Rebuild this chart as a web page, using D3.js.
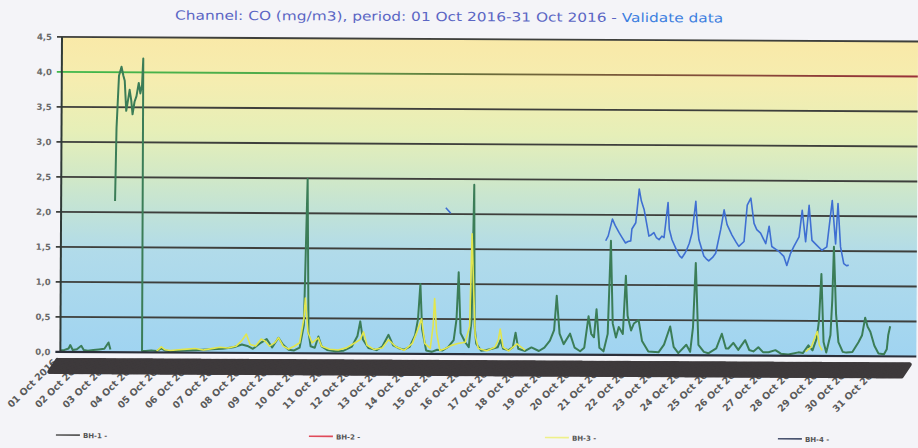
<!DOCTYPE html>
<html><head><meta charset="utf-8">
<script src="https://cdn.jsdelivr.net/npm/d3@7"></script>
<style>body{margin:0;background:#f4f4f8;} svg{display:block}</style>
</head><body><svg id="c" width="918" height="448"></svg>
<script>
const titleMain = "Channel: CO (mg/m3), period: 01 Oct 2016-31 Oct 2016 - ";
const titleTail = "Validate data";
const yTicks = [0, 0.5, 1, 1.5, 2, 2.5, 3, 3.5, 4, 4.5];
const yTickLabels = ["0,0","0,5","1,0","1,5","2,0","2,5","3,0","3,5","4,0","4,5"];
const dayLabels = ["01 Oct 2016","02 Oct 2016","03 Oct 2016","04 Oct 2016","05 Oct 2016","06 Oct 2016","07 Oct 2016","08 Oct 2016","09 Oct 2016","10 Oct 2016","11 Oct 2016","12 Oct 2016","13 Oct 2016","14 Oct 2016","15 Oct 2016","16 Oct 2016","17 Oct 2016","18 Oct 2016","19 Oct 2016","20 Oct 2016","21 Oct 2016","22 Oct 2016","23 Oct 2016","24 Oct 2016","25 Oct 2016","26 Oct 2016","27 Oct 2016","28 Oct 2016","29 Oct 2016","30 Oct 2016","31 Oct 2016"];
const seriesNames = ["BH-1 -","BH-2 -","BH-3 -","BH-4 -"];
const limitValue = 4.0;
// [day offset from 01 Oct 00:00, value]; null = gap
const bh1 = [[0,0.02],[0.15,0.03],[0.3,0.05],[0.36,0.1],[0.45,0.03],[0.6,0.04],[0.76,0.09],[0.85,0.03],[1.0,0.02],[1.2,0.03],[1.4,0.04],[1.6,0.05],[1.75,0.14],[1.82,0.04],[1.9,null],
[1.96,2.16],[2.0,3.2],[2.08,3.95],[2.17,4.08],[2.24,3.95],[2.29,3.88],[2.35,3.45],[2.42,3.62],[2.47,3.75],[2.53,3.6],[2.58,3.4],[2.65,3.58],[2.72,3.66],[2.8,3.85],[2.86,3.7],[2.92,3.82],[2.96,4.2],[2.97,0.02],
[3.1,0.02],[3.3,0.03],[3.5,0.02],[3.67,0.06],[3.8,0.03],[4.0,0.02],[4.5,0.03],[5.0,0.04],[5.5,0.05],[5.9,0.06],[6.3,0.08],[6.6,0.12],[6.8,0.1],[7.0,0.06],[7.3,0.15],[7.5,0.2],[7.7,0.08],[7.93,0.22],[8.1,0.12],[8.3,0.05],[8.5,0.04],[8.7,0.08],[8.85,0.4],[8.96,2.49],[9.02,0.3],[9.1,0.1],[9.25,0.08],[9.38,0.24],[9.5,0.1],[9.7,0.05],[10.0,0.03],[10.3,0.04],[10.6,0.1],[10.8,0.25],[10.9,0.46],[11.0,0.2],[11.2,0.08],[11.5,0.05],[11.7,0.1],[11.93,0.27],[12.1,0.12],[12.3,0.08],[12.5,0.06],[12.7,0.1],[12.9,0.27],[13.0,0.5],[13.08,1.0],[13.15,0.35],[13.3,0.05],[13.5,0.03],[13.7,0.06],[13.9,0.05],[14.1,0.1],[14.3,0.2],[14.4,0.5],[14.47,1.17],[14.55,0.3],[14.72,0.17],[14.85,0.1],[14.95,0.5],[15.02,2.42],[15.06,0.4],[15.12,0.15],[15.3,0.05],[15.5,0.06],[15.7,0.08],[15.9,0.1],[16.0,0.2],[16.1,0.08],[16.3,0.06],[16.45,0.1],[16.55,0.31],[16.65,0.08],[16.9,0.05],[17.13,0.1],[17.4,0.05],[17.6,0.1],[17.8,0.2],[17.95,0.35],[18.04,0.84],[18.15,0.3],[18.3,0.15],[18.53,0.3],[18.7,0.1],[18.9,0.05],[19.05,0.1],[19.2,0.55],[19.3,0.3],[19.4,0.25],[19.49,0.65],[19.6,0.1],[19.75,0.05],[19.9,0.3],
[20.0,1.63],[20.08,0.45],[20.2,0.25],[20.3,0.4],[20.45,0.3],[20.55,1.13],[20.62,0.56],[20.75,0.35],[20.85,0.45],[21.02,0.5],[21.15,0.2],[21.38,0.05],[21.75,0.04],[21.95,0.15],[22.17,0.41],[22.3,0.12],[22.47,0.03],[22.76,0.15],[22.9,0.05],[23.0,0.4],[23.09,1.32],[23.2,0.15],[23.4,0.05],[23.56,0.03],[23.85,0.1],[24.05,0.31],[24.2,0.1],[24.29,0.1],[24.47,0.18],[24.65,0.08],[24.9,0.22],[25.05,0.08],[25.2,0.06],[25.38,0.12],[25.55,0.05],[25.75,0.05],[26.0,0.08],[26.2,0.03],[26.47,0.02],[26.84,0.05],[27.0,0.04],[27.2,0.15],[27.35,0.08],[27.5,0.25],[27.58,0.5],[27.66,1.17],[27.75,0.2],[27.85,0.05],[28.0,0.3],[28.06,0.8],[28.11,1.56],[28.2,0.6],[28.29,0.2],[28.45,0.06],[28.58,0.05],[28.8,0.06],[29.02,0.2],[29.15,0.3],[29.26,0.55],[29.35,0.42],[29.45,0.35],[29.6,0.15],[29.75,0.04],[29.95,0.03],[30.05,0.1],[30.1,0.3],[30.17,0.43]];
const bh2 = [];
const bh3 = [[3.5,0.02],[3.67,0.08],[3.8,0.04],[4.0,0.03],[4.3,0.04],[4.6,0.05],[4.9,0.06],[5.2,0.04],[5.5,0.06],[5.8,0.08],[6.1,0.07],[6.4,0.1],[6.6,0.18],[6.76,0.27],[6.9,0.12],[7.1,0.1],[7.3,0.2],[7.45,0.17],[7.6,0.1],[7.8,0.15],[7.93,0.22],[8.1,0.1],[8.3,0.06],[8.5,0.1],[8.7,0.15],[8.85,0.5],[8.9,0.79],[9.0,0.3],[9.15,0.15],[9.38,0.22],[9.5,0.1],[9.8,0.06],[10.1,0.05],[10.4,0.08],[10.7,0.15],[10.9,0.2],[11.02,0.31],[11.15,0.12],[11.4,0.06],[11.7,0.08],[11.93,0.2],[12.2,0.1],[12.5,0.05],[12.8,0.15],[12.95,0.3],[13.13,0.5],[13.25,0.15],[13.45,0.08],[13.55,0.4],[13.6,0.79],[13.68,0.3],[13.8,0.05],[14.0,0.08],[14.2,0.12],[14.45,0.15],[14.72,0.17],[14.88,0.4],[14.95,1.72],[15.02,0.9],[15.08,0.27],[15.2,0.08],[15.5,0.05],[15.8,0.1],[15.92,0.2],[15.99,0.36],[16.1,0.1],[16.3,0.05],[16.6,0.15],[16.9,0.06],[17.0,null],
[27.1,0.06],[27.31,0.13],[27.44,0.27],[27.52,0.35],[27.6,0.15],[27.7,0.08]];
const bh4 = [[13.99,2.09],[14.08,2.05],[14.17,2.01],[14.2,null],
[19.81,1.63],[19.9,1.7],[20.05,1.94],[20.15,1.85],[20.29,1.75],[20.4,1.68],[20.53,1.6],[20.62,1.62],[20.72,1.63],[20.76,1.8],[20.9,1.89],[21.02,2.37],[21.1,2.2],[21.2,2.08],[21.38,1.7],[21.47,1.72],[21.56,1.75],[21.65,1.68],[21.75,1.65],[21.85,1.7],[21.93,1.68],[22.07,2.18],[22.12,1.8],[22.22,1.65],[22.4,1.49],[22.5,1.42],[22.58,1.39],[22.68,1.45],[22.76,1.51],[22.85,1.6],[22.95,1.75],[23.08,2.2],[23.13,1.9],[23.2,1.65],[23.38,1.42],[23.47,1.38],[23.56,1.35],[23.7,1.4],[23.81,1.46],[23.99,1.8],[24.11,2.08],[24.22,1.87],[24.4,1.72],[24.55,1.62],[24.65,1.56],[24.84,1.63],[24.95,2.15],[25.08,2.25],[25.2,1.89],[25.3,1.8],[25.44,1.75],[25.63,1.6],[25.75,1.85],[25.85,1.56],[26.0,1.52],[26.11,1.49],[26.29,1.42],[26.4,1.29],[26.53,1.46],[26.65,1.56],[26.84,1.7],[26.95,2.08],[27.08,1.63],[27.2,2.15],[27.31,1.65],[27.49,1.58],[27.67,1.51],[27.85,1.56],[28.04,2.22],[28.17,1.6],[28.25,2.18],[28.35,1.56],[28.47,1.32],[28.58,1.29],[28.65,1.3]];
const seriesColors = ["#3b7d57","#d83a4a","#e2e64e","#3f6fd2"];
const legendColors = ["#555555","#e04a5a","#eef08a","#4a5470"];

const svg = d3.select("#c");
const defs = svg.append("defs");
const L = 62, R = 918, T = 37, B = 352;
const x = d3.scaleLinear().domain([0, 31]).range([L, 914.5]);
const y = d3.scaleLinear().domain([0, 4.5]).range([B, T]);

const bg = defs.append("linearGradient").attr("id","bg").attr("x1",0).attr("y1",0).attr("x2",0).attr("y2",1);
[[0,"#f9e9a8"],[0.14,"#f5edb0"],[0.3,"#e6efb8"],[0.45,"#d0e8c8"],[0.56,"#c0e2d8"],[0.68,"#b1dbea"],[1,"#a0d4f1"]]
  .forEach(s => bg.append("stop").attr("offset", s[0]).attr("stop-color", s[1]));
const lg = defs.append("linearGradient").attr("id","lim").attr("gradientUnits","userSpaceOnUse")
  .attr("x1",L).attr("x2",R).attr("y1",0).attr("y2",0);
[[0,"#3fb84a"],[0.3,"#55a84a"],[0.5,"#6a6a3a"],[1,"#9a3038"]].forEach(s => lg.append("stop").attr("offset", s[0]).attr("stop-color", s[1]));
defs.append("clipPath").attr("id","pc").append("rect").attr("x",L).attr("y",T-6).attr("width",R-L).attr("height",B-T+6);

const root = svg.append("g").attr("transform", `rotate(0.3, ${L}, ${T})`);

root.append("text").attr("x", 449).attr("y", 19).attr("text-anchor","middle")
  .attr("font-family","DejaVu Sans, sans-serif").attr("font-size", 12.5)
  .attr("textLength", 548).attr("lengthAdjust","spacingAndGlyphs")
  .call(t => { t.append("tspan").attr("fill","#5b66c4").text(titleMain); t.append("tspan").attr("fill","#3d7fe0").text(titleTail); });

root.append("rect").attr("x",L).attr("y",T).attr("width",R-L).attr("height",B-T).attr("fill","url(#bg)");

// gridlines
root.append("g").selectAll("line").data(yTicks.filter(v => v > 0)).join("line")
  .attr("x1", 57).attr("x2", R).attr("y1", d => y(d)).attr("y2", d => y(d))
  .attr("stroke", d => d === limitValue ? "url(#lim)" : "#3e3f3c").attr("stroke-width", 1.8);
root.append("g").selectAll("text").data(yTicks).join("text")
  .attr("x", 52).attr("y", d => y(d) + 3).attr("text-anchor","end")
  .attr("font-family","DejaVu Sans, sans-serif").attr("font-size", 8.5).attr("font-weight","bold").attr("fill","#6a6a6a")
  .text((d,i) => yTickLabels[i]);

// series
const line = d3.line().defined(d => d[1] != null).x(d => x(d[0])).y(d => y(d[1]));
const plot = root.append("g").attr("clip-path","url(#pc)");
[bh1, bh2, bh3, bh4].forEach((s, i) => {
  if (!s.length) return;
  plot.append("path").datum(s).attr("d", line).attr("fill","none")
    .attr("stroke", seriesColors[i]).attr("stroke-width", i === 0 ? 2 : 1.6).attr("stroke-linejoin","round");
});

// axes lines
root.append("line").attr("x1",L).attr("x2",L).attr("y1",T).attr("y2",B).attr("stroke","#2f3a36").attr("stroke-width",2);
root.append("line").attr("x1",57).attr("x2",R).attr("y1",B).attr("y2",B).attr("stroke","#2b2f3a").attr("stroke-width",2.2);

// day labels
root.append("g").selectAll("text").data(dayLabels).join("text")
  .attr("transform", (d,i) => `translate(${x(i) - 3},${363}) rotate(-45)`)
  .attr("text-anchor","end").attr("font-family","DejaVu Sans, sans-serif").attr("font-size", 9.5)
  .attr("font-weight","bold").attr("fill","#5a5a5a").text(d => d);

// dense hourly tick band
const hours = d3.range(0, 31 * 24 + 1);
root.append("g").selectAll("line").data(hours).join("line")
  .attr("x1", h => x(h / 24) - 3).attr("y1", 360)
  .attr("x2", h => x(h / 24) - 11).attr("y2", 372)
  .attr("stroke", "#3e3a3c").attr("stroke-width", 4).attr("stroke-linecap","round");

// legend
const legX = [58, 311, 547, 780];
const lgd = root.append("g");
seriesNames.forEach((n, i) => {
  lgd.append("line").attr("x1", legX[i]).attr("x2", legX[i] + 24).attr("y1", 435).attr("y2", 435)
    .attr("stroke", legendColors[i]).attr("stroke-width", 1.6);
  lgd.append("text").attr("x", legX[i] + 27).attr("y", 438).attr("font-family","DejaVu Sans, sans-serif")
    .attr("font-size", 7).attr("font-weight","bold").attr("fill","#555").text(n);
});
</script></body></html>
